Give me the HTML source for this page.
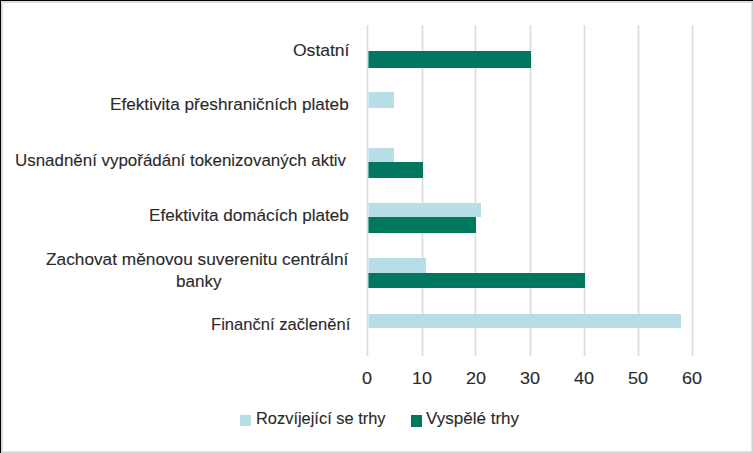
<!DOCTYPE html>
<html>
<head>
<meta charset="utf-8">
<style>
html,body{margin:0;padding:0;}
body{width:753px;height:453px;position:relative;overflow:hidden;background:#fff;font-family:"Liberation Sans",sans-serif;color:#2a2a2a;}
.frame{position:absolute;left:0;top:0;width:753px;height:453px;box-sizing:border-box;border-top:1px solid #000;border-left:1px solid #000;}
.inner{position:absolute;left:1px;top:1px;width:752px;height:452px;box-sizing:border-box;border-left:2px solid #dcdcdc;border-top:2px solid #dcdcdc;border-right:1px solid #d3d3d3;border-bottom:1px solid #d3d3d3;box-shadow:inset -1px -1px 0 #e7e7e7;}
.g{position:absolute;top:25px;height:331px;width:1px;background:#dddddd;box-shadow:-1px 0 0 #f3f3f3,1px 0 0 #f3f3f3;}
.b{position:absolute;left:368px;background:#b7dde7;box-shadow:inset 1px 0 0 rgba(255,255,255,0.4);}
.d{position:absolute;left:368px;background:#00775e;box-shadow:inset 1px 0 0 rgba(255,255,255,0.4);}
.t{position:absolute;font-size:17px;line-height:20px;white-space:nowrap;transform-origin:0 0;-webkit-text-stroke:0.1px #2a2a2a;}
.sq{position:absolute;}
</style>
</head>
<body>
<div class="frame"></div>
<div class="inner"></div>
<div class="g" style="left:367px"></div>
<div class="g" style="left:422px"></div>
<div class="g" style="left:475px"></div>
<div class="g" style="left:530px"></div>
<div class="g" style="left:584px"></div>
<div class="g" style="left:638px"></div>
<div class="g" style="left:692px"></div>
<div class="d" style="top:51px;height:17px;width:163px"></div>
<div class="b" style="top:92px;height:16px;width:26px"></div>
<div class="b" style="top:148px;height:14px;width:26px"></div>
<div class="d" style="top:162px;height:16px;width:55px"></div>
<div class="b" style="top:203px;height:14px;width:113px"></div>
<div class="d" style="top:217px;height:16px;width:108px"></div>
<div class="b" style="top:258px;height:15px;width:58px"></div>
<div class="d" style="top:273px;height:15px;width:217px"></div>
<div class="b" style="top:314px;height:14px;width:313px"></div>
<div class="t" style="left:293.37px;top:41px;transform:scaleX(1.0302);letter-spacing:0px">Ostatní</div>
<div class="t" style="left:109.77px;top:95px;transform:scaleX(1.0104);letter-spacing:0px">Efektivita přeshraničních plateb</div>
<div class="t" style="left:15.41px;top:151px;transform:scaleX(0.9952);letter-spacing:0px">Usnadnění vypořádání tokenizovaných aktiv</div>
<div class="t" style="left:148.58px;top:206px;transform:scaleX(1.0071);letter-spacing:0px">Efektivita domácích plateb</div>
<div class="t" style="left:46.38px;top:250px;transform:scaleX(1.0155);letter-spacing:0px">Zachovat měnovou suverenitu centrální</div>
<div class="t" style="left:175.8px;top:272px;transform:scaleX(1.0046);letter-spacing:0px">banky</div>
<div class="t" style="left:211.04px;top:315px;transform:scaleX(0.9758);letter-spacing:0px">Finanční začlenění</div>
<div class="t" style="left:362.07px;top:369px;transform:scaleX(1.06);letter-spacing:0px">0</div>
<div class="t" style="left:412.04px;top:369px;transform:scaleX(1.06);letter-spacing:0px">10</div>
<div class="t" style="left:466.02px;top:369px;transform:scaleX(1.06);letter-spacing:0px">20</div>
<div class="t" style="left:520.15px;top:369px;transform:scaleX(1.06);letter-spacing:0px">30</div>
<div class="t" style="left:573.53px;top:369px;transform:scaleX(1.06);letter-spacing:0px">40</div>
<div class="t" style="left:628.12px;top:369px;transform:scaleX(1.06);letter-spacing:0px">50</div>
<div class="t" style="left:682.34px;top:369px;transform:scaleX(1.06);letter-spacing:0px">60</div>
<div class="t" style="left:255.86px;top:409px;transform:scaleX(0.9653);letter-spacing:0px">Rozvíjející se trhy</div>
<div class="t" style="left:425.6px;top:409px;transform:scaleX(1.0022);letter-spacing:0px">Vyspělé trhy</div>
<div class="sq" style="left:240px;top:415px;width:11px;height:11px;background:#b7dde7"></div>
<div class="sq" style="left:411px;top:415px;width:11px;height:12px;background:#00775e"></div>
</body>
</html>
